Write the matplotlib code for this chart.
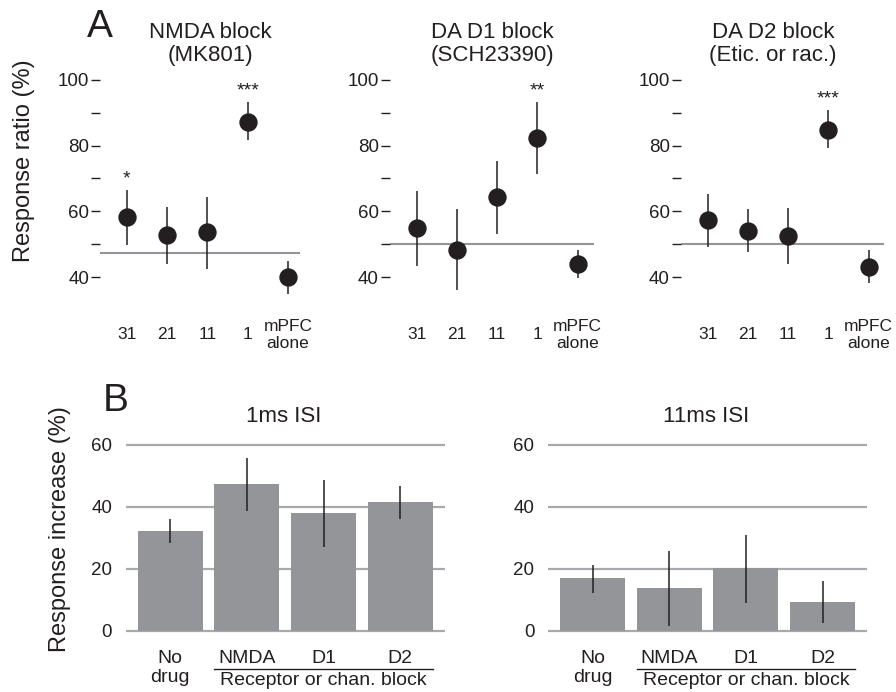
import matplotlib
matplotlib.use('Agg')
import matplotlib.pyplot as plt
import numpy as np

plt.rcParams['font.family'] = ['Liberation Sans', 'DejaVu Sans']

INK = '#231f20'
GREY = '#939598'
GRID = '#a7a9ac'

# Panel A: response ratio vs interval (ms) for each drug block
a_labels = ['31', '21', '11', '1', 'mPFC\nalone']

nmda_mean = [58.3, 52.7, 53.7, 87.3, 40.0]
nmda_hi = [66.4, 61.3, 64.4, 93.4, 45.0]
nmda_lo = [49.6, 44.0, 42.5, 81.7, 34.9]
nmda_base = 47.4
nmda_stars = ['*', '', '', '***', '']

d1_mean = [54.9, 48.3, 64.4, 82.4, 44.0]
d1_hi = [66.1, 60.6, 75.3, 93.2, 48.3]
d1_lo = [43.5, 36.1, 53.2, 71.3, 39.8]
d1_base = 50.0
d1_stars = ['', '', '', '**', '']

d2_mean = [57.5, 54.1, 52.6, 84.9, 43.0]
d2_hi = [65.4, 60.6, 61.0, 90.9, 48.1]
d2_lo = [49.2, 47.5, 44.0, 79.2, 38.1]
d2_base = 50.0
d2_stars = ['', '', '', '***', '']

a_titles = ['NMDA block\n(MK801)', 'DA D1 block\n(SCH23390)', 'DA D2 block\n(Etic. or rac.)']

# Panel B: response increase per drug condition
b_labels = ['No\ndrug', 'NMDA', 'D1', 'D2']
b_group = 'Receptor or chan. block'

isi1_mean = [32.3, 47.5, 38.1, 41.7]
isi1_hi = [36.0, 55.7, 48.7, 46.8]
isi1_lo = [28.4, 38.8, 27.1, 36.1]

isi11_mean = [16.9, 13.9, 20.2, 9.4]
isi11_hi = [21.2, 25.8, 30.9, 16.2]
isi11_lo = [12.1, 1.5, 8.9, 2.4]

b_titles = ['1ms ISI', '11ms ISI']

W, H = 896, 692
fig = plt.figure(figsize=(W / 100, H / 100), dpi=100)


def px_axes(left, top, right, bottom):
    return fig.add_axes([left / W, 1 - bottom / H, (right - left) / W, (bottom - top) / H])


def ftext(x, y, s, **kw):
    fig.text(x / W, 1 - y / H, s, color=INK, ha='center', va='center', **kw)


# ---- panel A ----
a_lefts = [100.4, 390.1, 681.1]
a_widths = [200, 204, 203]
a_title_x = [210, 492, 773]
a_sets = [
    (nmda_mean, nmda_hi, nmda_lo, nmda_base, nmda_stars),
    (d1_mean, d1_hi, d1_lo, d1_base, d1_stars),
    (d2_mean, d2_hi, d2_lo, d2_base, d2_stars),
]
xpos = np.arange(len(a_labels))

for i, (mean, hi, lo, base, stars) in enumerate(a_sets):
    ax = px_axes(a_lefts[i], 73.4, a_lefts[i] + a_widths[i], 300)
    ax.set_xlim(-0.66, -0.66 + a_widths[i] / 40.25)
    ax.set_ylim(33, 102)
    for s in ax.spines.values():
        s.set_visible(False)
    ax.axhline(base, color=GREY, lw=1.5, zorder=1)
    ax.vlines(xpos, lo, hi, color=INK, lw=1.1, zorder=2)
    ax.plot(xpos, mean, 'o', color=INK, ms=12.2, zorder=3)
    for x, h, st in zip(xpos, hi, stars):
        if st:
            ax.text(x, h + 2, st, ha='center', va='baseline', fontsize=14, color=INK)
    ax.set_xticks([])
    ax.set_yticks([40, 60, 80, 100])
    ax.set_yticks([50, 70, 90], minor=True)
    ax.tick_params(axis='y', which='both', direction='out', length=6.5, width=1,
                   color=INK, labelcolor=INK, labelsize=13.5, pad=1.5)
    for x, lab in zip(xpos, a_labels):
        ax.text(x, 22.4, lab, ha='center', va='center', fontsize=12.5, color=INK,
                linespacing=1.2, clip_on=False)
    ftext(a_title_x[i], 44, a_titles[i], fontsize=16, linespacing=1.15)

ftext(100, 27, 'A', fontsize=28)
ftext(24, 161, 'Response ratio (%)', fontsize=17, rotation=90)

# ---- panel B ----
b_lefts = [126, 548.3]
b_sets = [(isi1_mean, isi1_hi, isi1_lo), (isi11_mean, isi11_hi, isi11_lo)]
bpos = np.arange(len(b_labels))

for i, (mean, hi, lo) in enumerate(b_sets):
    ax = px_axes(b_lefts[i], 438.8, b_lefts[i] + 319, 633.8)
    ax.set_xlim(-0.577, 3.584)
    ax.set_ylim(-1, 62)
    for s in ax.spines.values():
        s.set_visible(False)
    for g in [0, 20, 40, 60]:
        ax.axhline(g, color=GRID, lw=1.6, zorder=0)
    ax.bar(bpos, mean, width=0.85, color=GREY, zorder=1)
    ax.vlines(bpos, lo, hi, color=INK, lw=1.1, zorder=2)
    ax.set_xticks([])
    ax.set_yticks([0, 20, 40, 60])
    ax.tick_params(axis='y', length=0, labelcolor=INK, labelsize=13.5, pad=10)
    for x, lab in zip(bpos, b_labels):
        ax.text(x, -6.3, lab, ha='center', va='top', fontsize=14, color=INK,
                linespacing=1.15, clip_on=False)
    ax.plot([0.575, 3.425], [-12.4, -12.4], color=INK, lw=1, clip_on=False)
    ax.text(2, -16.2, b_group, ha='center', va='center', fontsize=14, color=INK,
            clip_on=False)
    ftext(b_lefts[i] + 158, 417, b_titles[i], fontsize=16)

ftext(116, 401, 'B', fontsize=28)
ftext(60, 529, 'Response increase (%)', fontsize=17, rotation=90)

fig.savefig('out.png', dpi=100)
